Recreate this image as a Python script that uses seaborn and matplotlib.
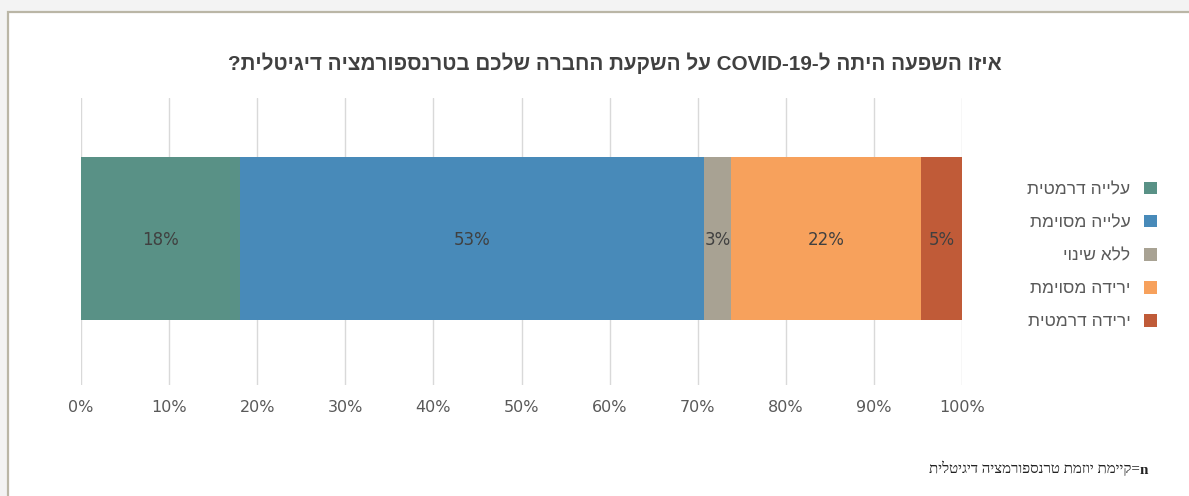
"""Stacked 100% bar: COVID-19 impact on digital transformation investment (Hebrew, RTL)."""

import re
import pandas as pd
import matplotlib
matplotlib.use("Agg")
import matplotlib.pyplot as plt
import matplotlib.patches as mpatches
import seaborn as sns

# data (share of respondents, %)
CATEGORIES = ["עלייה דרמטית", "עלייה מסוימת", "ללא שינוי", "ירידה מסוימת", "ירידה דרמטית"]
VALUES = [18.0, 52.7, 3.1, 21.6, 4.6]
COLORS = ["#599186", "#488AB9", "#A8A293", "#F7A15C", "#C05B38"]
X_TICKS = [0, 10, 20, 30, 40, 50, 60, 70, 80, 90, 100]

TITLE = "איזו השפעה היתה ל-COVID-19 על השקעת החברה שלכם בטרנספורמציה דיגיטלית?"
NOTE_N = "n"
NOTE_TEXT = "=קיימת יוזמת טרנספורמציה דיגיטלית"

HEB_FONT = ["Liberation Sans", "DejaVu Sans"]
SERIF = ["Liberation Serif", "DejaVu Serif"]


def rtl(s: str) -> str:
    """Very small bidi: reverse the string, keep latin/digit runs left-to-right."""
    return re.sub(r"[A-Za-z0-9][A-Za-z0-9\-]*[A-Za-z0-9]|[A-Za-z0-9]",
                  lambda m: m.group()[::-1], s[::-1])


sns.set_theme(style="white")
plt.rcParams["font.family"] = HEB_FONT

fig = plt.figure(figsize=(11.89, 4.96), dpi=100)
fig.patch.set_facecolor("#f3f3f3")
panel = mpatches.Rectangle((8 / 1189, -0.01), 1.0, 1 - 12 / 496 + 0.01,
                           transform=fig.transFigure, facecolor="white",
                           edgecolor="#bab6a6", linewidth=1.6, zorder=-5)
fig.patches.append(panel)

ax = fig.add_axes([81 / 1189, 1 - 385 / 496, (962 - 81) / 1189, (385 - 98) / 496])
ax.set_facecolor("none")

# cumulative stack, drawn widest first so the shorter ones sit on top
df = pd.DataFrame({"label": CATEGORIES, "value": VALUES, "color": COLORS})
df["cum"] = df["value"].cumsum()
df["start"] = df["cum"] - df["value"]
for _, row in df[::-1].iterrows():
    sns.barplot(x=[row["cum"]], y=["all"], orient="h", color=row["color"],
                width=0.568, saturation=1, linewidth=0, ax=ax, zorder=2)

for _, row in df.iterrows():
    ax.text(row["start"] + row["value"] / 2, 0.005, f"{row['value']:.0f}%",
            ha="center", va="center", fontsize=12, color="#404040",
            family="DejaVu Sans", zorder=3)

ax.set_xlim(0, 100)
ax.set_ylim(0.51, -0.49)
ax.set_xticks(X_TICKS)
ax.set_xticklabels([f"{t}%" for t in X_TICKS], family="DejaVu Sans",
                   fontsize=11.5, color="#595959")
ax.tick_params(axis="x", length=0, pad=11)
ax.set_yticks([])
ax.set_xlabel("")
ax.set_ylabel("")
ax.grid(axis="x", color="#d9d9d9", linewidth=1)
ax.set_axisbelow(True)
for sp in ax.spines.values():
    sp.set_visible(False)

fig.text(615 / 1189, 1 - 63 / 496, rtl(TITLE), ha="center", va="center",
         fontsize=14.9, fontweight="bold", color="#404040", family=HEB_FONT)

handles = [mpatches.Patch(facecolor=c, edgecolor="none") for c in COLORS]
ax.legend(handles, [rtl(c) for c in CATEGORIES], loc="center right",
          bbox_to_anchor=(1173 / 1189, 1 - 255.5 / 496),
          bbox_transform=fig.transFigure, markerfirst=False, frameon=False,
          handlelength=0.75, handleheight=0.75, handletextpad=0.8,
          labelspacing=1.02, prop={"family": HEB_FONT, "size": 12.5},
          labelcolor="#595959")

# footnote: bold n on the right, hebrew text to its left
n_txt = fig.text(1148 / 1189, 1 - 470 / 496, NOTE_N, ha="right", va="center",
                 fontsize=10.8, fontweight="bold", color="#222222", family=SERIF)
ax.annotate(rtl(NOTE_TEXT), xy=(0, 0), xycoords=n_txt, ha="right", va="bottom",
            fontsize=10.8, color="#222222", family=SERIF, annotation_clip=False)

fig.savefig("out.png", dpi=100, facecolor=fig.get_facecolor())
